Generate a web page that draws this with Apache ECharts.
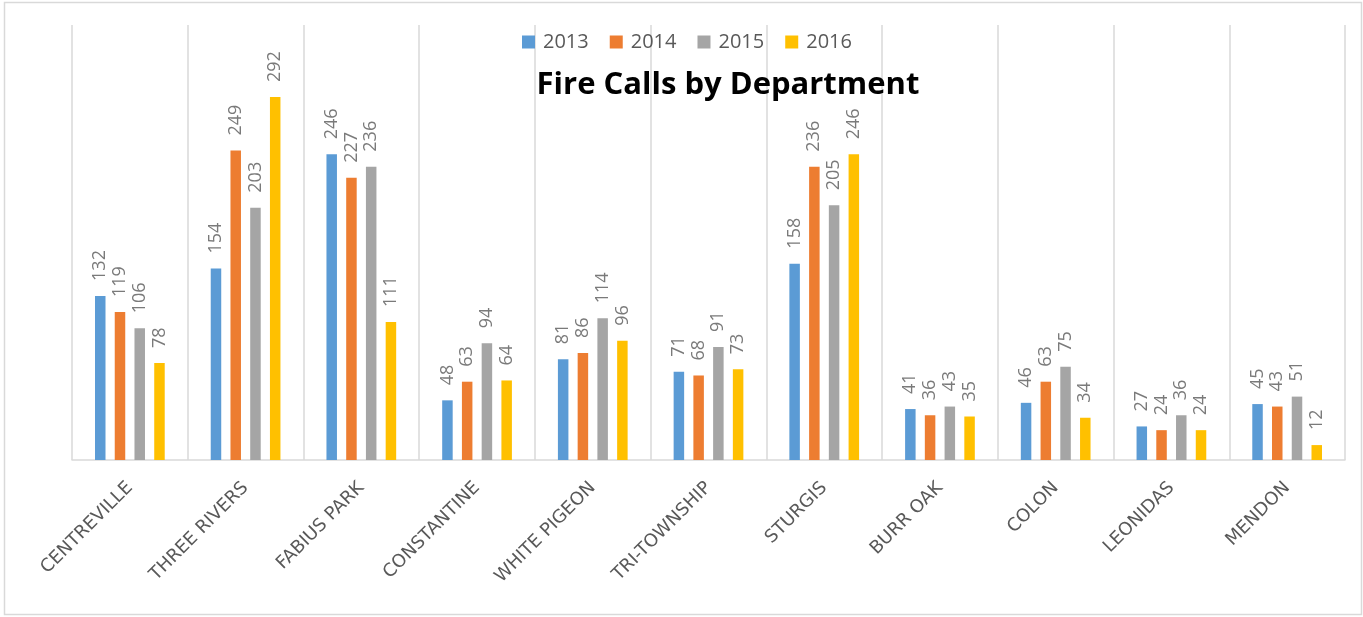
<!DOCTYPE html>
<html>
<head>
<meta charset="utf-8">
<script src="https://cdn.jsdelivr.net/npm/echarts@6/dist/echarts.min.js"></script>
<style>
html,body{margin:0;padding:0;background:#fff;}
#chart{width:1363px;height:617px;}
</style>
</head>
<body>
<div id="chart"></div>
<script>
const categories = ['CENTREVILLE','THREE RIVERS','FABIUS PARK','CONSTANTINE','WHITE PIGEON','TRI-TOWNSHIP','STURGIS','BURR OAK','COLON','LEONIDAS','MENDON'];
const years = ['2013','2014','2015','2016'];
const calls2013 = [132,154,246,48,81,71,158,41,46,27,45];
const calls2014 = [119,249,227,63,86,68,236,36,63,24,43];
const calls2015 = [106,203,236,94,114,91,205,43,75,36,51];
const calls2016 = [78,292,111,64,96,73,246,35,34,24,12];
const titleText = 'Fire Calls by Department';

const colors = ['#5B9BD5','#ED7D31','#A5A5A5','#FFC000'];
const seriesData = [calls2013, calls2014, calls2015, calls2016];

const chart = echarts.init(document.getElementById('chart'), null, {renderer:'canvas'});
chart.setOption({
  animation: false,
  color: colors,
  graphic: [
    {type:'rect', shape:{x:4.5,y:2.5,width:1357,height:612}, style:{fill:'none', stroke:'#d9d9d9', lineWidth:1.5}, silent:true, z:-1},
    {type:'text', x:728, y:85, style:{text:titleText, fill:'#000', font:'bold 31px "Open Sans", sans-serif', textAlign:'center', textVerticalAlign:'middle'}, z:10}
  ],
  legend: {
    data: years,
    left: 517, top: 27,
    itemWidth: 13, itemHeight: 13, itemGap: 21,
    icon: 'rect',
    textStyle: {color:'#595959', fontSize:20, fontFamily:'"Open Sans", sans-serif', padding:[0,0,0,3]}
  },
  grid: {left:72, right:18, top:25, bottom:157, containLabel:false},
  xAxis: {
    type:'category',
    data: categories,
    axisLine:{lineStyle:{color:'#d9d9d9', width:1.5}},
    axisTick:{show:false},
    splitLine:{show:true, lineStyle:{color:'#d9d9d9', width:1.5}},
    axisLabel:{interval:0, rotate:45, margin:25, color:'#595959', fontSize:18, fontFamily:'DejaVu Sans'}
  },
  yAxis: {type:'value', min:0, max:350, show:false, splitLine:{show:false}},
  series: years.map((y,i)=>({
    name: y,
    type: 'bar',
    data: seriesData[i],
    barWidth: 10.5,
    barGap: '88%',
    itemStyle:{color: colors[i]},
    label:{show:true, position:'top', rotate:90, align:'left', verticalAlign:'middle', distance:15,
      color:'#7a7a7a', fontSize:18, fontFamily:'"Open Sans", sans-serif'}
  }))
});
</script>
</body>
</html>
